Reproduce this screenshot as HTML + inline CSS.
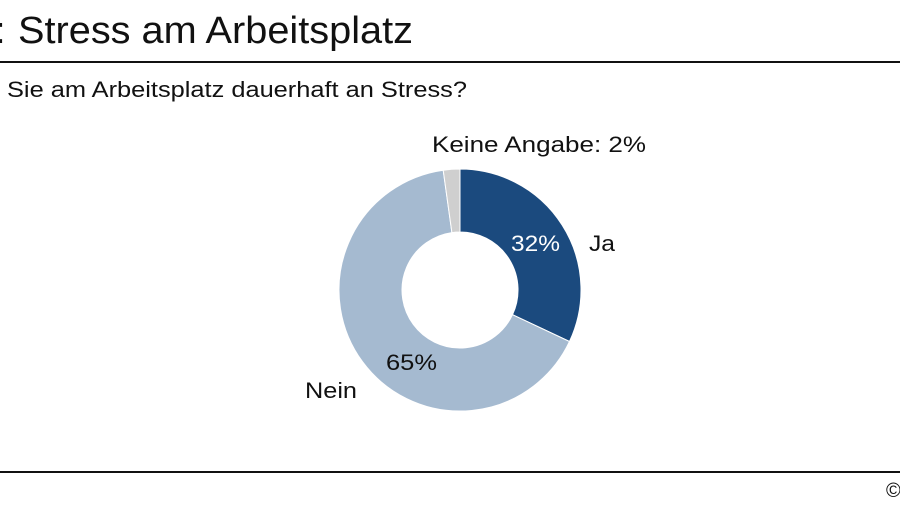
<!DOCTYPE html>
<html><head><meta charset="utf-8"><style>
html,body{margin:0;padding:0;background:#fff;width:900px;height:506px;overflow:hidden}
</style></head><body>
<svg width="900" height="506" xmlns="http://www.w3.org/2000/svg" font-family="Liberation Sans, Arial, sans-serif">
<rect width="900" height="506" fill="#fff"/>
<text x="-5" y="43" font-size="38" fill="#111">:</text>
<text x="18" y="43" font-size="38" fill="#111" textLength="395" lengthAdjust="spacingAndGlyphs">Stress am Arbeitsplatz</text>
<rect x="0" y="61" width="900" height="2" fill="#111"/>
<text x="7" y="97" font-size="22.5" fill="#111" textLength="460" lengthAdjust="spacingAndGlyphs">Sie am Arbeitsplatz dauerhaft an Stress?</text>
<g transform="translate(460,290)" stroke="#fff" stroke-width="1">
<path d="M0,-121 A121,121 0 0 1 109.5,51.5 L52.5,24.7 A58,58 0 0 0 0,-58 Z" fill="#1b4a7e"/>
<path d="M109.5,51.5 A121,121 0 1 1 -16.8,-119.8 L-8.1,-57.4 A58,58 0 1 0 52.5,24.7 Z" fill="#a5bad0"/>
<path d="M-16.8,-119.8 A121,121 0 0 1 0,-121 L0,-58 A58,58 0 0 0 -8.1,-57.4 Z" fill="#cfcfcf"/>
</g>
<text x="432" y="152" font-size="22.5" fill="#111" textLength="214" lengthAdjust="spacingAndGlyphs">Keine Angabe: 2%</text>
<text x="511" y="251" font-size="22.5" fill="#fff" textLength="49" lengthAdjust="spacingAndGlyphs">32%</text>
<text x="589" y="251" font-size="22.5" fill="#111" textLength="26" lengthAdjust="spacingAndGlyphs">Ja</text>
<text x="386" y="370" font-size="22.5" fill="#111" textLength="51" lengthAdjust="spacingAndGlyphs">65%</text>
<text x="305" y="398" font-size="22.5" fill="#111" textLength="52" lengthAdjust="spacingAndGlyphs">Nein</text>
<rect x="0" y="471" width="900" height="2" fill="#111"/>
<text x="886" y="497" font-size="20" fill="#111">©</text>
</svg>
</body></html>
